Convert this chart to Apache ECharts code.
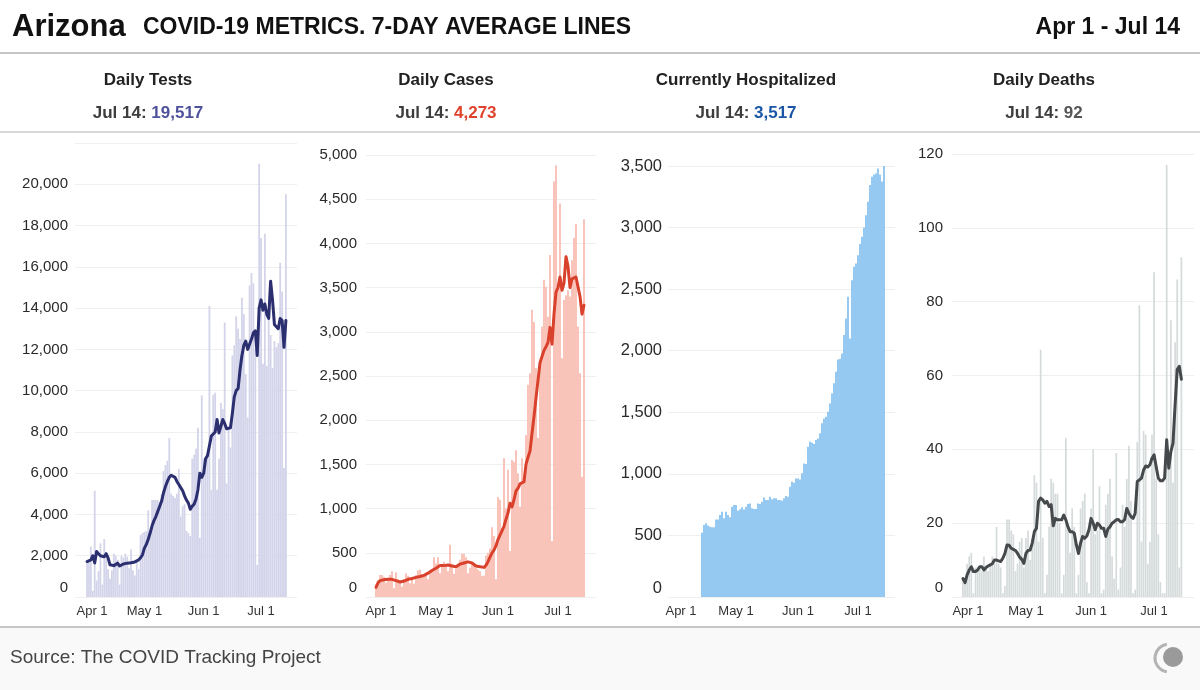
<!DOCTYPE html>
<html><head><meta charset="utf-8">
<script src="https://cdn.jsdelivr.net/npm/echarts@6/dist/echarts.min.js"></script>
<style>html,body{margin:0;padding:0;background:#fff}#c{width:1200px;height:690px}</style>
</head><body><div id="c"></div>
<script>
// ---------- DATA (Apr 1 .. Jul 14, 105 days; index 0 = Apr 1) ----------
const monthTicks = [0, 30, 61, 91];
const monthLabels = ['Apr 1', 'May 1', 'Jun 1', 'Jul 1'];
const panelTitles = ['Daily Tests', 'Daily Cases', 'Currently Hospitalized', 'Daily Deaths'];
const lastDateLabel = 'Jul 14';

const testsDaily = [
  1700, 1750, 2450, 300, 5150, 800, 1250, 2600, 600, 2800,
  2050, 1350, 900, 1300, 2100, 2000, 1800, 600, 2000, 1900,
  2100, 1950, 1400, 2300, 1300, 1050, 1750, 1350, 3000, 3100,
  3150, 3200, 4200, 3100, 4700, 4700, 4700, 4700, 4600, 5000,
  6100, 6400, 6600, 7700, 5000, 4900, 4800, 5000, 6200, 3900,
  4400, 4500, 3200, 3100, 2950, 6700, 6900, 7200, 8200, 2860,
  9770, 6700, 6800, 7000, 14100, 5200, 9800, 9900, 5200, 6700,
  9400, 9100, 13300, 5500, 8150, 7250, 11700, 12200, 13600, 13000,
  12500, 14500, 13700, 10800, 8700, 15100, 15700, 15200, 12000, 1550,
  21000, 17400, 11300, 17600, 11200, 13800, 12700, 11100, 12400, 12100,
  12300, 16200, 14800, 6250, 19517
];
const testsAvg = [
  1720, 1700, 1800, 2000, 1650, 2200, 2100, 2000, 2050, 1950,
  2100, 1900, 1560, 1540, 1520, 1480, 1640, 1500, 1580, 1600,
  1620, 1640, 1650, 1660, 1680, 1700, 1720, 1800, 1900, 2050,
  2370, 2550, 2800, 3100, 3450, 3700, 3900, 4150, 4400, 4650,
  5050, 5350, 5600, 5800, 5900, 5950, 5800, 5600, 5450, 5300,
  5150, 4900, 4700, 4550, 4250, 4400, 4500, 4750, 5200, 6000,
  5800, 6000, 6700, 6850, 6800, 7800, 7900, 8000, 8600, 7950,
  7900, 8600, 8400, 8150, 8100, 8200, 8900, 9700, 10000, 10100,
  11000, 11700, 12200, 12400, 12000, 12000, 12500, 12800, 12900, 11700,
  14000, 14400, 13900, 14200, 13700, 13500, 15300, 14400, 13200, 13100,
  13000, 13500, 13400, 12100, 13400
];
const casesDaily = [
  140, 190, 250, 250, 230, 160, 210, 250, 290, 100,
  280, 200, 170, 120, 200, 270, 240, 155, 210, 150,
  250, 300, 310, 260, 230, 260, 200, 300, 320, 450,
  380, 450, 270, 340, 400, 360, 290, 590, 380, 260,
  320, 360, 420, 490, 490, 450, 270, 330, 380, 360,
  330, 310, 290, 240, 240, 470, 500, 550, 790, 690,
  200, 1130, 1100, 780, 1570, 1000, 1440, 520, 1550, 1530,
  1660, 1400, 1020, 1570, 1290, 1830, 2400, 2530, 3250, 3110,
  2590, 1800, 2600, 3060, 3590, 3510, 3170, 3870, 630, 4700,
  4880, 3470, 4450, 2700, 3360, 3410, 3470, 3400, 3810, 4060,
  4220, 3060, 2530, 1360, 4273
];
const casesAvg = [
  110, 160, 185, 200, 195, 190, 200, 200, 200, 195,
  185, 175, 170, 170, 180, 200, 200, 205, 210, 215,
  222, 228, 232, 235, 245, 255, 270, 285, 300, 315,
  325, 340, 355, 362, 355, 350, 362, 358, 350, 345,
  343, 360, 372, 380, 385, 390, 398, 395, 385, 370,
  350, 345, 343, 340, 335, 360, 400, 450, 500, 530,
  580, 650, 700, 720, 800, 880, 950, 1060, 1020, 1100,
  1200, 1230, 1280, 1290, 1304, 1500, 1580, 1650, 1850, 2040,
  2250, 2450, 2650, 2720, 2790, 2830, 2880, 3050, 2860, 3200,
  3450, 3500, 3620, 3470, 3550, 3850, 3740, 3500, 3600, 3620,
  3620, 3630, 3400, 3200, 3300
];
const hospCurrent = [
  null, null, null, null, null, null, null, null, null, null,
  null, null, null, 522, 585, 598, 580, 571, 566, 566,
  630, 630, 666, 693, 639, 693, 666, 647, 733, 747,
  747, 701, 712, 728, 710, 733, 755, 760, 720, 715,
  715, 760, 755, 774, 809, 787, 787, 815, 793, 801,
  801, 787, 787, 782, 801, 820, 815, 896, 936, 928,
  963, 963, 955, 1004, 1085, 1080, 1220, 1261, 1253, 1242,
  1274, 1288, 1329, 1410, 1450, 1464, 1505, 1572, 1653, 1735,
  1829, 1929, 1935, 1978, 2127, 2262, 2438, 2100, 2573, 2682,
  2709, 2776, 2866, 2925, 3001, 3101, 3209, 3345, 3412, 3430,
  3440, 3480, 3430, 3375, 3517
];
const deathsDaily = [
  5, 4, 9, 11, 12, 1, 8, 8, 8, 7,
  11, 8, 7, 9, 11, 9, 19, 9, 8, 1,
  3, 21, 21, 18, 17, 7, 9, 15, 16, 8,
  16, 18, 10, 16, 33, 31, 15, 67, 16, 1,
  6, 19, 32, 31, 28, 28, 20, 1, 6, 43,
  19, 12, 24, 19, 1, 6, 24, 26, 28, 4,
  1, 24, 40, 17, 18, 30, 1, 2, 25, 28,
  32, 11, 5, 39, 2, 8, 25, 19, 32, 41,
  26, 1, 2, 42, 79, 15, 45, 44, 9, 15,
  44, 88, 32, 17, 4, 1, 1, 117, 35, 75,
  31, 69, 86, 8, 92
];
const deathsAvg = [
  5, 3.9, 6, 7.3, 8.2, 6.9, 6.9, 7.3, 8.2, 8.2,
  7.3, 8, 8.4, 8.7, 9, 10, 10, 9.8, 9.6, 10.5,
  11.8, 14.1, 14, 13.2, 12.9, 12.6, 11.8, 10.8, 10.2, 9.1,
  11.8, 12.6, 12.7, 14.6, 17.7, 18.6, 25.9, 26.8, 26.3, 25.4,
  25.9, 24.5, 25, 19.3, 21.3, 20.9, 20.9, 20.9, 22.2, 20.9,
  19, 17.7, 17.7, 17.3, 14.1, 11.8, 14.6, 16.4, 15.9, 16.5,
  18.2, 21.3, 20, 18.2, 20, 19.5, 18.6, 18.6, 16.4, 18.4,
  19, 20, 20.4, 20.9, 21, 20.4, 20.4, 21, 24, 22.7,
  21.8, 21.3, 22.7, 31.3, 31.7, 32.2, 34.4, 35.5, 35.2, 35.8,
  37.6, 38.5, 35.3, 32.2, 31.5, 31.5, 32.2, 42.6, 34.9, 39.4,
  41.7, 52, 61.6, 62.5, 59
];

// ---------- LAYOUT / STYLE ----------
const FONT = '"Liberation Sans", Arial, Helvetica, sans-serif';
const panels = [
  {daily: testsDaily, avg: testsAvg, grid: {left: 75, top: 143, width: 222, height: 454},
   xMin: -6.3, xMax: 109.8, yMax: 22000, yInt: 2000, hideMax: true, labelMargin: 7, labelSize: 15,
   barColor: '#d3d4ea', lineColor: '#2b2e6f', barW: 1.8, cx: 148, valueColor: '#4f529b'},
  {daily: casesDaily, avg: casesAvg, grid: {left: 366, top: 155, width: 230, height: 442},
   xMin: -5, xMax: 110, yMax: 5000, yInt: 500, hideMax: false, labelMargin: 9, labelSize: 15,
   barColor: '#f9bfb4', lineColor: '#d9412c', barW: 1.85, cx: 446, valueColor: '#e0432d'},
  {daily: hospCurrent, avg: null, grid: {left: 668, top: 166, width: 227, height: 431},
   xMin: -4, xMax: 109.5, yMax: 3500, yInt: 500, hideMax: false, labelMargin: 6, labelSize: 16.5,
   barColor: '#8ec5f0', lineColor: null, barW: 1.85, cx: 746, valueColor: '#1a56a6'},
  {daily: deathsDaily, avg: deathsAvg, grid: {left: 952, top: 154, width: 242, height: 443},
   xMin: -5.2, xMax: 110, yMax: 120, yInt: 20, hideMax: false, labelMargin: 9, labelSize: 15,
   barColor: '#d5dadb', lineColor: '#45494b', barW: 1.7, cx: 1044, valueColor: '#555555'}
];

const grids = [], xAxes = [], yAxes = [], series = [], graphics = [];

panels.forEach((p, k) => {
  grids.push(Object.assign({containLabel: false}, p.grid));
  xAxes.push({
    type: 'value', gridIndex: k, min: p.xMin, max: p.xMax,
    axisLine: {show: false}, axisTick: {show: false}, splitLine: {show: false},
    axisLabel: {
      customValues: monthTicks, margin: 8, fontSize: 13, color: '#333', fontFamily: FONT,
      formatter: v => {
        const idx = monthTicks.indexOf(Math.round(v));
        if (idx < 0) return '';
        return idx === 0 ? '{f|' + monthLabels[0] + '}' : monthLabels[idx];
      },
      rich: {f: {fontSize: 13, color: '#333', fontFamily: FONT, padding: [0, 0, 0, 10]}}
    }
  });
  yAxes.push({
    type: 'value', gridIndex: k, min: 0, max: p.yMax, interval: p.yInt,
    axisLine: {show: false}, axisTick: {show: false},
    splitLine: {show: true, lineStyle: {color: '#efefef', width: 1}},
    axisLabel: {
      margin: p.labelMargin, fontSize: p.labelSize, color: '#2a2a2a', fontFamily: FONT,
      formatter: v => {
        if (v === 0) return '{z|0}';
        if (p.hideMax && v === p.yMax) return '';
        return v.toLocaleString('en-US');
      },
      rich: {z: {fontSize: p.labelSize, color: '#2a2a2a', fontFamily: FONT, padding: [0, 0, 18, 0]}}
    }
  });
  const barData = [];
  p.daily.forEach((v, i) => { if (v !== null) barData.push([i, v]); });
  series.push({
    type: 'bar', xAxisIndex: k, yAxisIndex: k, data: barData,
    barWidth: p.barW, itemStyle: {color: p.barColor}, silent: true, animation: false
  });
  if (p.avg) {
    series.push({
      type: 'line', xAxisIndex: k, yAxisIndex: k, data: p.avg.map((v, i) => [i, v]),
      showSymbol: false, symbol: 'none', smooth: false,
      lineStyle: {color: p.lineColor, width: 3, join: 'round', cap: 'round'},
      silent: true, animation: false, z: 3
    });
  }
  // Panel header texts
  const last = p.daily[p.daily.length - 1];
  graphics.push({
    type: 'text', x: p.cx, y: 80, silent: true,
    style: {text: panelTitles[k], fill: '#222', font: 'bold 17px ' + FONT, align: 'center', verticalAlign: 'middle'}
  });
  graphics.push({
    type: 'text', x: p.cx, y: 113, silent: true,
    style: {
      text: '{a|' + lastDateLabel + ': }{b|' + last.toLocaleString('en-US') + '}',
      align: 'center', verticalAlign: 'middle',
      rich: {
        a: {fill: '#3d3d3d', font: 'bold 17px ' + FONT},
        b: {fill: p.valueColor, font: 'bold 17px ' + FONT}
      }
    }
  });
});

// Header / footer decorations
graphics.push(
  {type: 'rect', silent: true, z: -10, shape: {x: 0, y: 628, width: 1200, height: 62}, style: {fill: '#f9f9f9'}},
  {type: 'text', x: 12, y: 27, silent: true,
   style: {text: 'Arizona', fill: '#111', font: 'bold 31px ' + FONT, align: 'left', verticalAlign: 'middle'}},
  {type: 'text', x: 143, y: 28, silent: true,
   style: {text: 'COVID-19 METRICS. 7-DAY AVERAGE LINES', fill: '#111', font: 'bold 23px ' + FONT, align: 'left', verticalAlign: 'middle'}},
  {type: 'text', x: 1180, y: 28, silent: true,
   style: {text: 'Apr 1 - Jul 14', fill: '#111', font: 'bold 23px ' + FONT, align: 'right', verticalAlign: 'middle'}},
  {type: 'line', silent: true, shape: {x1: 0, y1: 53, x2: 1200, y2: 53}, style: {stroke: '#c6c6c6', lineWidth: 2}},
  {type: 'line', silent: true, shape: {x1: 0, y1: 132, x2: 1200, y2: 132}, style: {stroke: '#cccccc', lineWidth: 1.5}},
  {type: 'line', silent: true, shape: {x1: 0, y1: 627, x2: 1200, y2: 627}, style: {stroke: '#c6c6c6', lineWidth: 2}},
  {type: 'text', x: 10, y: 658, silent: true,
   style: {text: 'Source: The COVID Tracking Project', fill: '#444', font: '19px ' + FONT, align: 'left', verticalAlign: 'middle'}},
  {type: 'arc', silent: true, shape: {cx: 1169, cy: 658, r: 14, startAngle: Math.PI * 0.55, endAngle: Math.PI * 1.45},
   style: {stroke: '#b3b3b3', lineWidth: 3, fill: null}},
  {type: 'circle', silent: true, shape: {cx: 1173, cy: 657, r: 10}, style: {fill: '#9a9a9a'}}
);

const chart = echarts.init(document.getElementById('c'), null, {renderer: 'canvas', width: 1200, height: 690});
chart.setOption({
  backgroundColor: '#ffffff',
  animation: false,
  grid: grids,
  xAxis: xAxes,
  yAxis: yAxes,
  series: series,
  graphic: graphics
});
</script>
</body></html>
